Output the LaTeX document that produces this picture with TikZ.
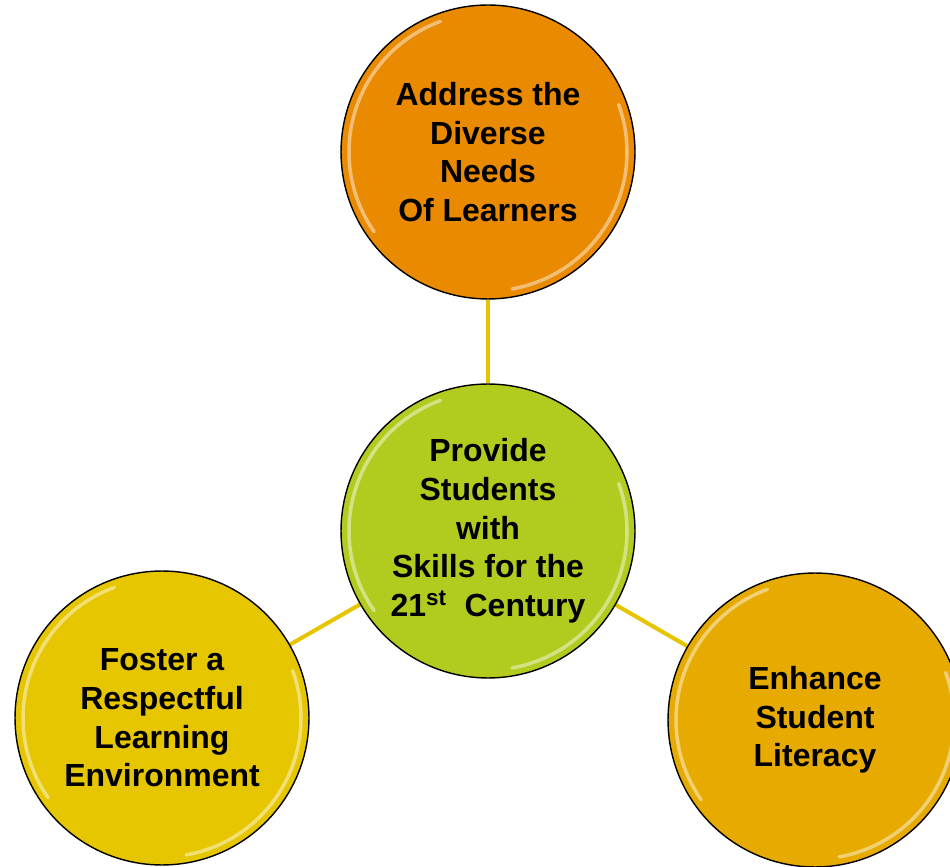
\documentclass[tikz,border=0pt]{standalone}
\usepackage{fontspec}
\setmainfont{Liberation Sans}
\usetikzlibrary{positioning, backgrounds}

\definecolor{needsorange}{HTML}{E98A00}
\definecolor{skillsgreen}{HTML}{B3CB1F}
\definecolor{respectyellow}{HTML}{E6C600}
\definecolor{literacygold}{HTML}{E6AA00}
\definecolor{linkgold}{HTML}{E6C400}
\newcommand{\goalfont}{\bfseries\fontsize{18.2}{22}\selectfont}

\begin{document}
\begin{tikzpicture}[
    x=0.02cm, y=0.02cm,
    goal/.style={circle, minimum size=5.88cm, inner sep=0pt, draw=black, line width=0.8pt, align=center, font=\goalfont},
    link/.style={line width=2.3pt, draw=linkgold},
    gloss/.style={white, opacity=0.45, line width=2pt, line cap=round}
]
\useasboundingbox (0,0) rectangle (950,866);

% Nodes
\node (skills) [goal, fill=skillsgreen] at (488,335) {Provide\\Students\\with\\Skills for the\\21\textsuperscript{st}~~Century};
\node (needs) [goal, fill=needsorange] at (488,714) {Address the\\Diverse\\Needs\\Of Learners};
\node (respect) [goal, fill=respectyellow] at (162,148) {Foster a\\Respectful\\Learning\\Environment};
\node (literacy) [goal, fill=literacygold] at (815,146) {Enhance\\Student\\Literacy};

% Shine along the rims
\foreach \n in {skills, needs, respect, literacy} {
    \draw [gloss] ([shift={(110:139)}]\n.center) arc[start angle=110, end angle=215, radius=139];
    \draw [gloss] ([shift={(-80:139)}]\n.center) arc[start angle=-80, end angle=20, radius=139];
}

% Connectors
\begin{scope}[on background layer]
\draw [link] (skills) -- (needs);
\draw [link] (skills) -- (respect);
\draw [link] (skills) -- (literacy);
\end{scope}

\end{tikzpicture}
\end{document}
